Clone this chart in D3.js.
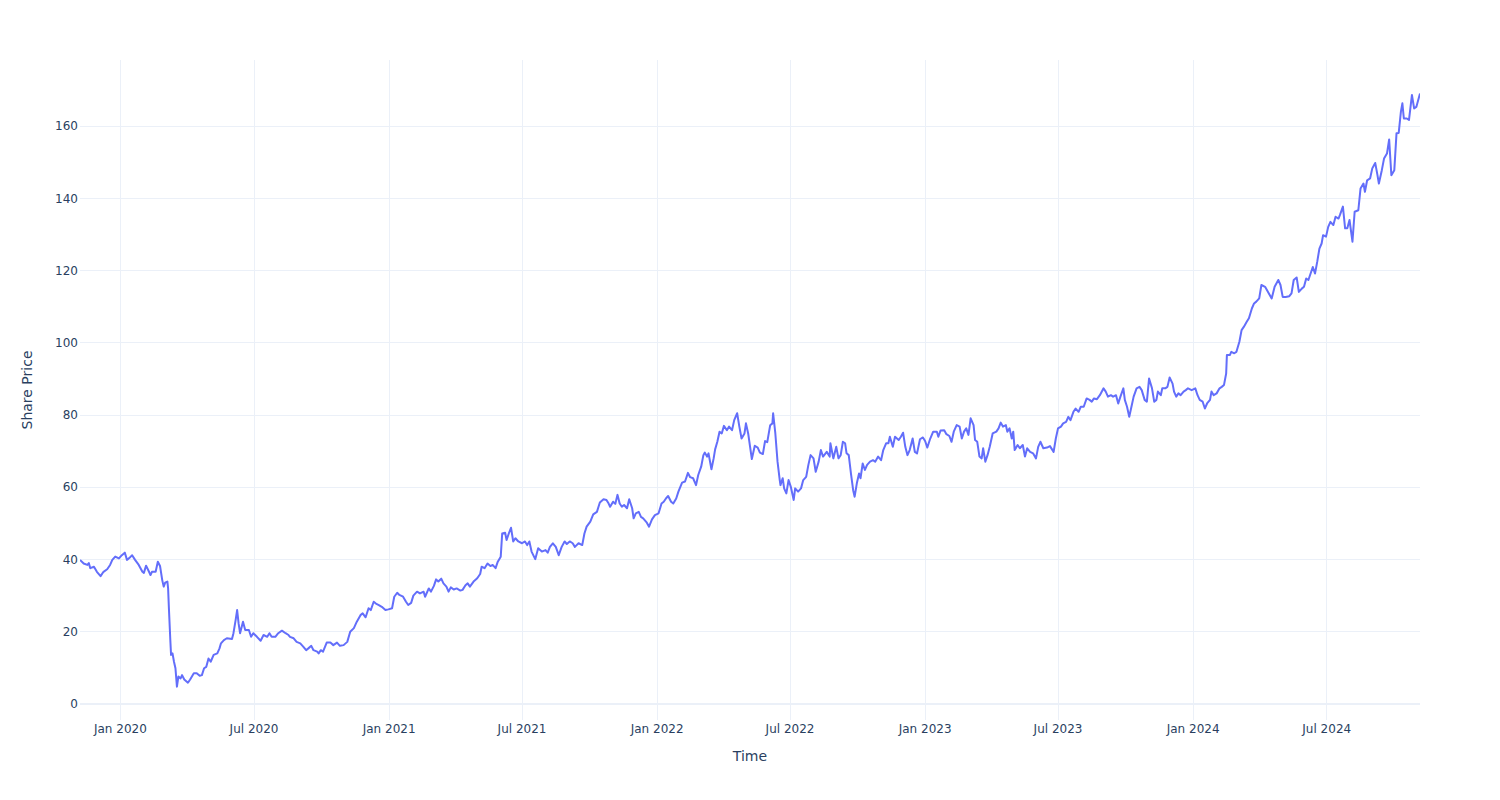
<!DOCTYPE html>
<html><head><meta charset="utf-8">
<script src="https://cdn.jsdelivr.net/npm/d3@7"></script>
<style>
body{margin:0;background:#fff;}
svg text{font-family:"DejaVu Sans",Verdana,sans-serif;fill:#2a3f5f;}
</style>
</head><body>
<svg id="chart" width="1500" height="800"></svg>
<script>
// ---- DATA ----
const series2019 = [
["2019-11-07",39.9],["2019-11-12",38.9],["2019-11-17",38.5],["2019-11-19",39.0],["2019-11-21",37.6],["2019-11-26",38.0],["2019-11-30",36.6],
["2019-12-05",35.4],["2019-12-09",36.6],["2019-12-14",37.3],["2019-12-18",38.5],["2019-12-21",39.9],["2019-12-25",40.8],["2019-12-30",40.3]
];
const series2020 = [
["2020-01-03",41.2],["2020-01-07",41.9],["2020-01-10",39.9],["2020-01-15",40.8],["2020-01-17",41.2],["2020-01-21",39.9],["2020-01-26",38.5],["2020-01-31",36.6],
["2020-02-02",36.3],["2020-02-05",38.3],["2020-02-09",36.6],["2020-02-11",35.7],["2020-02-13",36.6],["2020-02-18",36.6],["2020-02-21",39.4],["2020-02-24",38.2],["2020-02-27",34.3],["2020-02-29",32.5],
["2020-03-02",33.6],["2020-03-05",33.9],["2020-03-06",32.0],["2020-03-07",26.9],["2020-03-09",17.7],["2020-03-10",13.6],["2020-03-12",14.0],["2020-03-14",11.7],["2020-03-16",9.9],["2020-03-18",4.8],["2020-03-20",7.6],["2020-03-23",7.1],["2020-03-25",8.0],["2020-03-28",6.8],
["2020-04-02",5.9],["2020-04-05",6.8],["2020-04-10",8.5],["2020-04-14",8.5],["2020-04-18",7.8],["2020-04-21",8.0],["2020-04-24",9.9],["2020-04-27",10.3],["2020-04-30",12.6],
["2020-05-03",11.7],["2020-05-07",13.6],["2020-05-12",14.0],["2020-05-15",15.4],["2020-05-17",16.8],["2020-05-21",17.7],["2020-05-25",18.2],
["2020-06-01",18.0],["2020-06-03",19.6],["2020-06-06",23.3],["2020-06-08",26.0],["2020-06-10",22.3],["2020-06-12",19.6],["2020-06-16",22.8],["2020-06-19",20.5],["2020-06-24",20.5],["2020-06-27",18.6],["2020-06-30",19.6],
["2020-07-05",18.6],["2020-07-10",17.5],["2020-07-14",19.1],["2020-07-19",18.6],["2020-07-22",19.6],["2020-07-25",18.6],["2020-07-30",18.6],
["2020-08-03",19.6],["2020-08-08",20.3],["2020-08-13",19.6],["2020-08-17",19.1],["2020-08-19",18.6],["2020-08-24",18.2],["2020-08-28",17.2],
["2020-09-02",16.8],["2020-09-06",15.9],["2020-09-10",14.9],["2020-09-13",15.4],["2020-09-17",16.1],["2020-09-20",14.9],["2020-09-25",14.5],["2020-09-27",14.0],["2020-09-30",14.9],
["2020-10-03",14.5],["2020-10-08",17.0],["2020-10-13",17.0],["2020-10-17",16.3],["2020-10-22",17.0],["2020-10-26",16.1],["2020-10-31",16.3],
["2020-11-05",17.2],["2020-11-09",20.0],["2020-11-14",21.0],["2020-11-18",22.8],["2020-11-23",24.6],["2020-11-26",25.1],["2020-11-30",24.0],
["2020-12-04",26.5],["2020-12-07",26.0],["2020-12-11",28.3],["2020-12-14",27.8],["2020-12-18",27.4],["2020-12-22",26.9],["2020-12-27",26.0],["2020-12-31",26.2]
];
const series2021 = [
["2021-01-05",26.5],["2021-01-08",29.7],["2021-01-12",30.8],["2021-01-15",30.2],["2021-01-20",29.7],["2021-01-24",28.3],["2021-01-27",27.4],["2021-01-31",28.0],
["2021-02-03",30.0],["2021-02-08",31.1],["2021-02-12",30.6],["2021-02-17",31.1],["2021-02-19",29.7],["2021-02-24",32.0],["2021-02-27",31.1],
["2021-03-03",32.7],["2021-03-06",34.5],["2021-03-09",33.9],["2021-03-13",34.7],["2021-03-16",33.4],["2021-03-20",32.5],["2021-03-23",31.1],["2021-03-26",32.3],["2021-03-30",31.7],
["2021-04-03",32.0],["2021-04-08",31.4],["2021-04-11",31.6],["2021-04-15",32.9],["2021-04-18",33.4],["2021-04-21",32.5],["2021-04-26",33.9],
["2021-05-01",34.8],["2021-05-05",36.0],["2021-05-07",38.0],["2021-05-11",37.6],["2021-05-15",38.9],["2021-05-19",38.2],["2021-05-22",38.5],["2021-05-26",37.6],["2021-05-29",39.4],
["2021-06-02",40.8],["2021-06-04",47.2],["2021-06-08",47.4],["2021-06-10",45.4],["2021-06-13",47.2],["2021-06-16",48.8],["2021-06-19",45.0],["2021-06-22",45.9],["2021-06-26",45.0],
["2021-07-01",44.5],["2021-07-05",45.0],["2021-07-08",44.0],["2021-07-11",45.0],["2021-07-14",42.2],["2021-07-19",40.1],["2021-07-23",43.1],["2021-07-28",42.2],
["2021-08-02",42.6],["2021-08-05",41.9],["2021-08-08",43.5],["2021-08-12",44.5],["2021-08-16",43.5],["2021-08-20",41.2],["2021-08-24",43.5],["2021-08-28",45.0],["2021-08-31",44.3],
["2021-09-04",45.0],["2021-09-08",44.5],["2021-09-11",43.5],["2021-09-16",44.5],["2021-09-21",44.0],["2021-09-24",47.2],["2021-09-27",49.1],
["2021-10-02",50.5],["2021-10-06",52.5],["2021-10-11",53.2],["2021-10-15",55.8],["2021-10-20",56.7],["2021-10-24",56.5],["2021-10-27",55.5],["2021-10-29",54.6],
["2021-11-02",56.0],["2021-11-05",55.4],["2021-11-08",57.9],["2021-11-11",55.5],["2021-11-14",54.6],["2021-11-17",55.1],["2021-11-21",54.2],["2021-11-24",56.7],["2021-11-28",54.2],["2021-11-30",51.4],
["2021-12-03",52.8],["2021-12-07",53.2],["2021-12-10",51.8],["2021-12-13",51.4],["2021-12-18",50.2],["2021-12-21",49.1],["2021-12-25",51.1],["2021-12-29",52.3]
];
const series2022 = [
["2022-01-03",52.8],["2022-01-07",55.5],["2022-01-10",56.0],["2022-01-13",56.9],["2022-01-16",57.6],["2022-01-20",56.0],["2022-01-23",55.5],["2022-01-27",56.9],["2022-01-30",58.8],
["2022-02-04",61.3],["2022-02-08",61.6],["2022-02-12",64.0],["2022-02-15",62.8],["2022-02-19",62.5],["2022-02-23",60.6],["2022-02-26",63.4],
["2022-03-02",65.7],["2022-03-05",68.9],["2022-03-07",69.6],["2022-03-10",68.5],["2022-03-12",69.4],["2022-03-16",65.0],["2022-03-19",68.0],["2022-03-21",70.5],["2022-03-24",72.6],["2022-03-27",75.4],["2022-03-30",74.9],
["2022-04-02",77.0],["2022-04-06",75.8],["2022-04-09",76.8],["2022-04-13",75.8],["2022-04-16",78.6],["2022-04-20",80.5],["2022-04-23",76.8],["2022-04-26",73.5],["2022-04-30",74.9],
["2022-05-02",77.7],["2022-05-05",74.9],["2022-05-10",67.8],["2022-05-14",71.5],["2022-05-18",71.0],["2022-05-21",69.6],["2022-05-25",69.2],["2022-05-28",72.8],["2022-05-31",72.5],
["2022-06-04",77.2],["2022-06-07",77.7],["2022-06-08",80.5],["2022-06-11",74.9],["2022-06-14",67.1],["2022-06-17",62.0],["2022-06-18",60.6],["2022-06-21",62.5],["2022-06-23",59.7],["2022-06-26",58.3],["2022-06-29",62.0],
["2022-07-02",60.2],["2022-07-06",56.5],["2022-07-08",59.7],["2022-07-12",58.8],["2022-07-16",59.7],["2022-07-19",62.0],["2022-07-23",62.9],["2022-07-26",66.2],["2022-07-29",68.9],
["2022-08-02",68.0],["2022-08-05",64.3],["2022-08-09",67.1],["2022-08-12",70.3],["2022-08-15",68.5],["2022-08-20",69.8],["2022-08-24",68.5],["2022-08-25",72.2],["2022-08-29",68.0],
["2022-09-02",71.2],["2022-09-05",68.0],["2022-09-08",68.9],["2022-09-11",72.6],["2022-09-14",72.2],["2022-09-16",69.4],["2022-09-19",68.9],["2022-09-22",63.8],["2022-09-25",59.2],["2022-09-27",57.4],["2022-09-30",61.1],
["2022-10-03",63.8],["2022-10-05",62.5],["2022-10-08",66.6],["2022-10-11",64.8],["2022-10-14",66.2],["2022-10-18",67.1],["2022-10-22",67.5],["2022-10-25",67.1],["2022-10-29",68.5],
["2022-11-02",67.5],["2022-11-05",70.3],["2022-11-09",72.2],["2022-11-12",72.2],["2022-11-14",74.0],["2022-11-18",71.2],["2022-11-21",74.0],["2022-11-26",73.1],["2022-11-29",74.0],
["2022-12-02",75.1],["2022-12-05",71.2],["2022-12-08",68.9],["2022-12-11",70.3],["2022-12-15",73.5],["2022-12-18",69.8],["2022-12-21",69.4],["2022-12-25",73.3],["2022-12-29",73.8]
];
const series2023 = [
["2023-01-01",72.8],["2023-01-04",71.0],["2023-01-08",73.5],["2023-01-12",75.4],["2023-01-17",75.4],["2023-01-19",74.0],["2023-01-22",75.7],["2023-01-27",75.8],["2023-01-30",74.7],
["2023-02-03",74.2],["2023-02-06",72.6],["2023-02-09",75.4],["2023-02-13",77.2],["2023-02-17",76.8],["2023-02-20",73.5],["2023-02-23",75.4],["2023-02-26",76.3],
["2023-03-01",74.5],["2023-03-04",79.1],["2023-03-08",77.2],["2023-03-10",73.1],["2023-03-13",72.6],["2023-03-16",68.5],["2023-03-19",68.0],["2023-03-21",70.8],["2023-03-24",67.1],["2023-03-27",68.9],["2023-03-30",71.2],
["2023-04-03",74.9],["2023-04-08",75.4],["2023-04-11",76.3],["2023-04-14",77.9],["2023-04-17",76.8],["2023-04-21",77.2],["2023-04-23",75.4],["2023-04-26",76.3],["2023-04-29",73.5],
["2023-05-01",75.4],["2023-05-03",70.3],["2023-05-07",71.7],["2023-05-10",70.8],["2023-05-14",71.7],["2023-05-17",68.5],["2023-05-20",70.8],["2023-05-24",69.8],["2023-05-28",69.4],
["2023-06-01",68.0],["2023-06-04",71.2],["2023-06-07",72.6],["2023-06-11",70.8],["2023-06-16",71.0],["2023-06-20",71.4],["2023-06-25",69.8],["2023-06-28",73.5],
["2023-07-01",76.3],["2023-07-05",76.8],["2023-07-08",77.7],["2023-07-12",78.1],["2023-07-15",79.5],["2023-07-18",78.6],["2023-07-22",80.9],["2023-07-25",81.8],["2023-07-29",80.9],
["2023-08-01",82.3],["2023-08-05",82.3],["2023-08-09",84.6],["2023-08-13",84.2],["2023-08-16",83.7],["2023-08-19",84.6],["2023-08-23",84.4],["2023-08-27",85.5],
["2023-09-01",87.4],["2023-09-04",86.5],["2023-09-07",85.1],["2023-09-11",85.5],["2023-09-14",85.1],["2023-09-18",85.5],["2023-09-21",83.2],["2023-09-24",85.1],["2023-09-28",87.4],["2023-09-30",84.2],
["2023-10-03",82.3],["2023-10-06",79.5],["2023-10-09",82.3],["2023-10-12",85.1],["2023-10-16",87.4],["2023-10-20",87.8],["2023-10-23",86.9],["2023-10-27",84.2],["2023-10-30",83.7],
["2023-11-02",90.1],["2023-11-06",87.4],["2023-11-09",83.7],["2023-11-12",84.2],["2023-11-14",86.5],["2023-11-18",85.5],["2023-11-20",87.4],["2023-11-24",87.4],["2023-11-27",87.8],["2023-11-30",90.4],
["2023-12-04",88.7],["2023-12-06",86.5],["2023-12-09",85.1],["2023-12-12",86.0],["2023-12-15",85.5],["2023-12-19",86.5],["2023-12-22",86.9],["2023-12-25",87.4],["2023-12-30",86.9]
];
const series2024 = [
["2024-01-04",87.4],["2024-01-07",85.5],["2024-01-10",84.2],["2024-01-14",83.7],["2024-01-17",81.8],["2024-01-20",83.2],["2024-01-24",84.2],["2024-01-26",86.5],["2024-01-29",85.5],
["2024-02-02",86.0],["2024-02-06",87.4],["2024-02-09",87.8],["2024-02-12",88.3],["2024-02-15",91.5],["2024-02-16",96.6],["2024-02-20",96.6],["2024-02-22",97.5],["2024-02-26",97.1],["2024-02-29",97.5],
["2024-03-04",100.3],["2024-03-07",103.5],["2024-03-10",104.4],["2024-03-14",105.8],["2024-03-17",106.8],["2024-03-21",109.5],["2024-03-24",110.9],["2024-03-27",111.4],["2024-03-31",112.3],
["2024-04-03",116.0],["2024-04-08",115.5],["2024-04-12",114.1],["2024-04-17",112.3],["2024-04-21",115.5],["2024-04-26",117.4],["2024-04-29",116.0],
["2024-05-02",112.7],["2024-05-06",112.7],["2024-05-11",112.9],["2024-05-14",113.7],["2024-05-17",117.4],["2024-05-21",118.1],["2024-05-24",114.1],["2024-05-28",115.0],["2024-05-31",115.5],
["2024-06-03",117.8],["2024-06-06",117.4],["2024-06-09",119.2],["2024-06-12",121.0],["2024-06-15",119.2],["2024-06-18",122.4],["2024-06-21",126.1],["2024-06-24",127.5],["2024-06-26",129.8],["2024-06-30",129.4],
["2024-07-03",132.1],["2024-07-06",133.5],["2024-07-10",132.6],["2024-07-13",134.9],["2024-07-17",134.4],["2024-07-19",135.4],["2024-07-23",137.7],["2024-07-26",131.7],["2024-07-29",131.7],
["2024-08-01",134.0],["2024-08-05",128.0],["2024-08-08",136.3],["2024-08-13",136.7],["2024-08-16",142.7],["2024-08-20",144.1],["2024-08-22",141.8],["2024-08-25",145.0],["2024-08-29",145.5],
["2024-09-01",148.3],["2024-09-05",149.8],["2024-09-08",146.5],["2024-09-10",144.1],["2024-09-14",147.8],["2024-09-17",151.0],["2024-09-21",152.4],["2024-09-24",156.3],["2024-09-27",146.4],
["2024-10-01",147.8],["2024-10-04",158.0],["2024-10-07",158.1],["2024-10-10",164.0],["2024-10-12",166.3],["2024-10-14",162.1],["2024-10-18",162.1],["2024-10-21",161.7],["2024-10-25",168.6],["2024-10-28",164.9],["2024-10-31",165.3],
["2024-11-05",169.0]
];
const yTickValues = [0, 20, 40, 60, 80, 100, 120, 140, 160];
const yDomain = [-4.43, 178.3];
const xTitle = "Time";
const yTitle = "Share Price";

// ---- CHART ----
const W = 1500, H = 800;
const m = {l: 80, r: 80, t: 60, b: 80};
const parse = d3.timeParse("%Y-%m-%d");
const data = [].concat(series2019, series2020, series2021, series2022, series2023, series2024)
  .map(([d, v]) => ({date: parse(d), value: v}));

const svg = d3.select("#chart");
const x = d3.scaleTime().domain(d3.extent(data, d => d.date)).range([m.l, W - m.r]);
const y = d3.scaleLinear().domain(yDomain).range([H - m.b, m.t]);

const gridColor = "#ebf0f8";
const xTicks = x.ticks(d3.timeMonth.every(6));

// vertical grid
svg.append("g").selectAll("line").data(xTicks).join("line")
  .attr("x1", d => x(d)).attr("x2", d => x(d))
  .attr("y1", m.t).attr("y2", H - m.b)
  .attr("stroke", gridColor).attr("stroke-width", 1)
  .attr("shape-rendering", "crispEdges");

// horizontal grid
svg.append("g").selectAll("line").data(yTickValues.filter(v => v !== 0)).join("line")
  .attr("x1", m.l).attr("x2", W - m.r)
  .attr("y1", d => y(d)).attr("y2", d => y(d))
  .attr("stroke", gridColor).attr("stroke-width", 1)
  .attr("shape-rendering", "crispEdges");

// zero line
svg.append("line")
  .attr("x1", m.l).attr("x2", W - m.r)
  .attr("y1", y(0)).attr("y2", y(0))
  .attr("stroke", gridColor).attr("stroke-width", 2);

// y tick labels
svg.append("g").selectAll("text").data(yTickValues).join("text")
  .attr("x", m.l - 2).attr("y", d => y(d)).attr("dy", "0.35em")
  .attr("text-anchor", "end").attr("font-size", 12)
  .text(d => d);

// x tick labels
const fmt = d3.timeFormat("%b %Y");
svg.append("g").selectAll("text").data(xTicks).join("text")
  .attr("x", d => x(d)).attr("y", H - m.b + 13)
  .attr("text-anchor", "middle").attr("font-size", 12)
  .text(d => fmt(d));

// clip
svg.append("clipPath").attr("id", "clip").append("rect")
  .attr("x", m.l).attr("y", m.t).attr("width", W - m.l - m.r).attr("height", H - m.t - m.b);

// line
const line = d3.line().x(d => x(d.date)).y(d => y(d.value));
svg.append("path").datum(data)
  .attr("clip-path", "url(#clip)")
  .attr("fill", "none").attr("stroke", "#636efa").attr("stroke-width", 2)
  .attr("stroke-linejoin", "round")
  .attr("d", line);

// axis titles
svg.append("text").attr("x", m.l + (W - m.l - m.r) / 2).attr("y", 761)
  .attr("text-anchor", "middle").attr("font-size", 14).text(xTitle);
svg.append("text")
  .attr("transform", `translate(32,${m.t + (H - m.t - m.b) / 2}) rotate(-90)`)
  .attr("text-anchor", "middle").attr("font-size", 14).text(yTitle);
</script>
</body></html>
